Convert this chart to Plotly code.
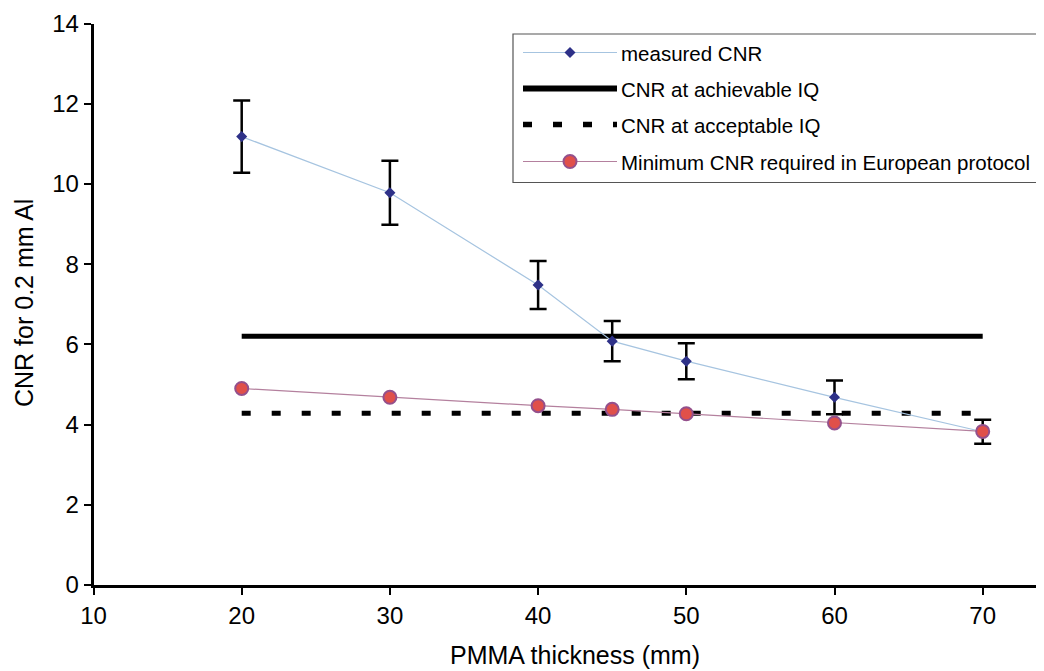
import plotly.graph_objects as go

# page is rendered with an 8px body margin; figure sized to fill the rest of the window
OFF = 8
W, H = 1044 - OFF, 671 - OFF

thickness = [20, 30, 40, 45, 50, 60, 70]
measured_cnr = [11.18, 9.78, 7.48, 6.08, 5.58, 4.68, 3.82]
measured_err = [0.9, 0.8, 0.6, 0.5, 0.45, 0.42, 0.3]
achievable_x = [20, 70]
achievable_cnr = [6.2, 6.2]
acceptable_x = [20, 70]
acceptable_cnr = [4.28, 4.28]
european_cnr = [4.9, 4.68, 4.47, 4.38, 4.27, 4.04, 3.83]

x_ticks = [10, 20, 30, 40, 50, 60, 70]
legend_labels = ["measured CNR", "CNR at achievable IQ", "CNR at acceptable IQ",
                 "Minimum CNR required in European protocol"]

FONT = "Liberation Sans, Arial, sans-serif"
BLUE_LINE = "#a6c4e0"
NAVY = "#2e3188"
PINK_LINE = "#b4809e"
RED = "#e0504a"
PURPLE = "#94508c"


def fx(x):
    return (x - OFF) / W


def fy(y):
    return 1 - (y - OFF) / H


fig = go.Figure()
fig.add_trace(go.Scatter(x=achievable_x, y=achievable_cnr, mode="lines",
                         line=dict(color="black", width=5), showlegend=False))
fig.add_trace(go.Scatter(x=acceptable_x, y=acceptable_cnr, mode="lines",
                         line=dict(color="black", width=5, dash="9px,21px"), showlegend=False))
fig.add_trace(go.Scatter(x=thickness, y=measured_cnr, mode="lines+markers",
                         line=dict(color=BLUE_LINE, width=1.2),
                         marker=dict(symbol="diamond", size=8.5, color=NAVY),
                         error_y=dict(type="data", array=measured_err, visible=True,
                                      color="black", thickness=2.5, width=8.5),
                         showlegend=False))
fig.add_trace(go.Scatter(x=thickness, y=european_cnr, mode="lines+markers",
                         line=dict(color=PINK_LINE, width=1.2),
                         marker=dict(symbol="circle", size=13, color=RED,
                                     line=dict(color=PURPLE, width=2)),
                         showlegend=False))

shapes = []
annotations = []
# legend box
shapes.append(dict(type="rect", xref="paper", yref="paper",
                   x0=fx(513), x1=fx(1070), y0=fy(34), y1=fy(182.5),
                   line=dict(color="#555555", width=1.2), fillcolor="white", layer="above"))
rows = [52.5, 88.5, 124.5, 161.5]
lx0, lx1, cx = 523, 617, 570
# row 1: thin blue line + diamond
shapes.append(dict(type="line", xref="paper", yref="paper", x0=fx(lx0), x1=fx(lx1),
                   y0=fy(rows[0]), y1=fy(rows[0]), line=dict(color=BLUE_LINE, width=1.2), layer="above"))
d = 5.5
shapes.append(dict(type="path", xref="paper", yref="paper", layer="above",
                   path=(f"M {fx(cx)} {fy(rows[0]-d)} L {fx(cx+d)} {fy(rows[0])} "
                         f"L {fx(cx)} {fy(rows[0]+d)} L {fx(cx-d)} {fy(rows[0])} Z"),
                   fillcolor=NAVY, line=dict(width=0)))
# row 2: thick solid
shapes.append(dict(type="line", xref="paper", yref="paper", x0=fx(lx0), x1=fx(lx1),
                   y0=fy(rows[1]), y1=fy(rows[1]), line=dict(color="black", width=6), layer="above"))
# row 3: dashed
shapes.append(dict(type="line", xref="paper", yref="paper", x0=fx(lx0), x1=fx(lx1),
                   y0=fy(rows[2]), y1=fy(rows[2]),
                   line=dict(color="black", width=5.5, dash="9px,21px"), layer="above"))
# row 4: pink line + circle
shapes.append(dict(type="line", xref="paper", yref="paper", x0=fx(lx0), x1=fx(lx1),
                   y0=fy(rows[3]), y1=fy(rows[3]), line=dict(color=PINK_LINE, width=1.2), layer="above"))
r = 6.5
shapes.append(dict(type="circle", xref="paper", yref="paper", layer="above",
                   x0=fx(cx-r), x1=fx(cx+r), y0=fy(rows[3]+r), y1=fy(rows[3]-r),
                   fillcolor=RED, line=dict(color=PURPLE, width=2)))
for yy, lab in zip(rows, legend_labels):
    annotations.append(dict(text=lab, xref="paper", yref="paper", x=fx(619), y=fy(yy + 1),
                            xanchor="left", yanchor="middle", showarrow=False,
                            font=dict(family=FONT, size=20.5, color="black")))

# axis titles
annotations.append(dict(text="PMMA thickness (mm)", xref="paper", yref="paper",
                        x=fx(575), y=fy(655), xanchor="center", yanchor="middle",
                        showarrow=False, font=dict(family=FONT, size=25, color="black")))
annotations.append(dict(text="CNR for 0.2 mm Al", xref="paper", yref="paper",
                        x=fx(24), y=fy(303), xanchor="center", yanchor="middle",
                        textangle=-90, showarrow=False,
                        font=dict(family=FONT, size=25, color="black")))

x_left, x_right = 93.5, 1044
px_per_unit = 148.2 / 10

fig.update_layout(
    width=W, height=H,
    margin=dict(l=0, r=0, t=0, b=0),
    paper_bgcolor="white", plot_bgcolor="white",
    font=dict(family=FONT, size=24, color="black"),
    shapes=shapes, annotations=annotations,
    xaxis=dict(domain=[fx(x_left), 1], range=[10, 10 + (x_right - x_left) / px_per_unit],
               tickvals=x_ticks,
               showgrid=False, zeroline=False, showline=True, linecolor="black", linewidth=2.5,
               ticks="outside", ticklen=7, tickwidth=2, tickcolor="black",
               tickfont=dict(family=FONT, size=24),
               automargin=False),
    yaxis=dict(domain=[fy(585), fy(23.5)], range=[0, 14], dtick=2,
               showgrid=False, zeroline=False, showline=True, linecolor="black", linewidth=2.5,
               ticks="outside", ticklen=7, tickwidth=2, tickcolor="black",
               tickfont=dict(family=FONT, size=24),
               automargin=False),
)

fig.write_html("out.html")
